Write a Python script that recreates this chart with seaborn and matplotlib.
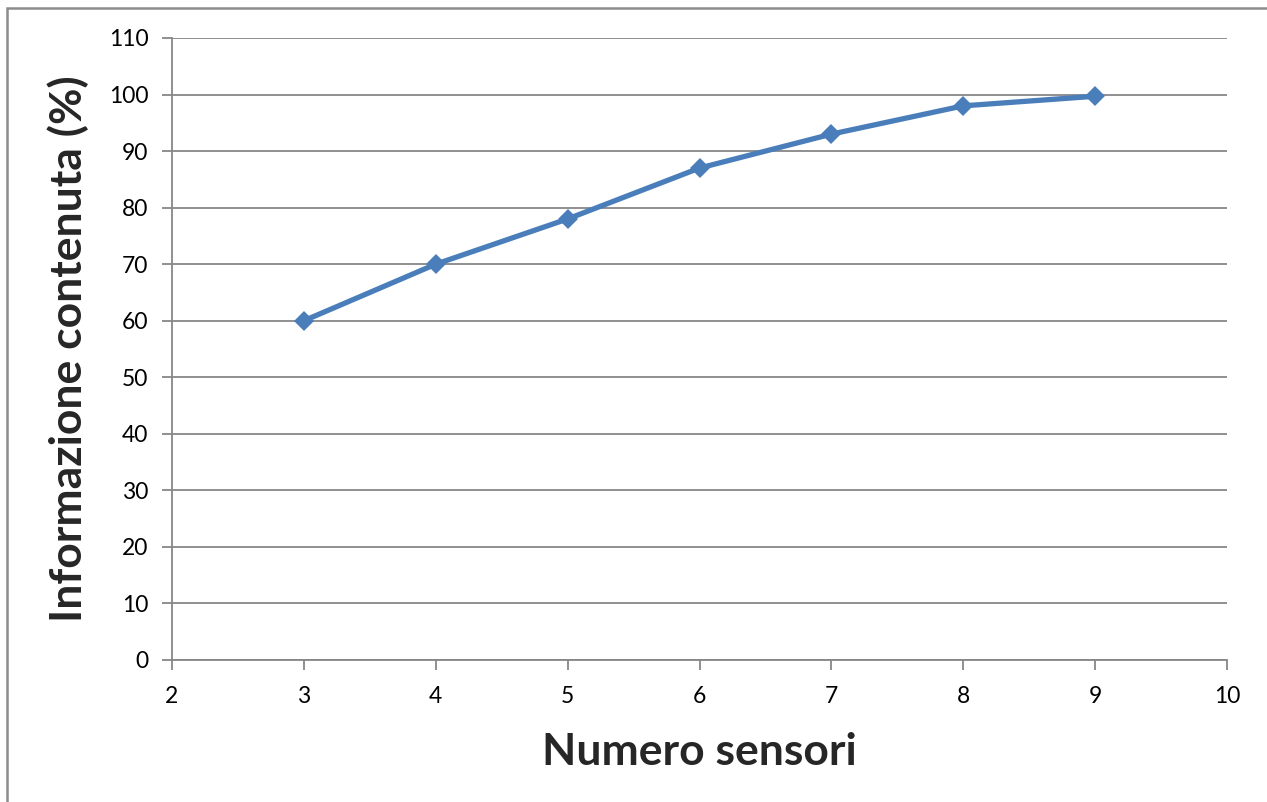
import matplotlib
matplotlib.use("Agg")
import matplotlib.pyplot as plt
import seaborn as sns
import pandas as pd
from matplotlib.patches import Rectangle

sensori = [3, 4, 5, 6, 7, 8, 9]
informazione = [60, 70, 78, 87, 93, 98, 99.7]
x_ticks = [2, 3, 4, 5, 6, 7, 8, 9, 10]
y_ticks = list(range(0, 111, 10))

sns.set_theme(style="white")
plt.rcParams['font.family'] = ['Lato', 'DejaVu Sans']

W, H = 1267, 802
fig = plt.figure(figsize=(W / 100, H / 100), dpi=100)
ax = fig.add_axes([172 / W, 1 - 660 / H, (1227 - 172) / W, (660 - 38) / H])

df = pd.DataFrame({"x": sensori, "y": informazione})
sns.lineplot(data=df, x="x", y="y", ax=ax, color="#4a7ebb", linewidth=3.8,
             marker="D", markersize=10, markeredgewidth=0, zorder=5)

ax.set_xlim(2, 10)
ax.set_ylim(0, 110)
ax.set_xticks(x_ticks)
ax.set_yticks(y_ticks)
ax.set_xticklabels([str(v) for v in x_ticks], fontsize=16.5)
ax.set_yticklabels([str(v) for v in y_ticks], fontsize=16.5)
gc = "#878787"
ax.grid(axis="y", color=gc, linewidth=1.3)
ax.grid(axis="x", visible=False)
for s in ["top", "right"]:
    ax.spines[s].set_visible(False)
for s in ["left", "bottom"]:
    ax.spines[s].set_color(gc)
    ax.spines[s].set_linewidth(1.3)
ax.tick_params(axis="both", which="major", length=7, width=1.3, color=gc,
               direction="out", left=True, bottom=True, labelcolor="black")
ax.tick_params(axis="y", pad=10)
ax.tick_params(axis="x", pad=12)

ax.set_xlabel("Numero sensori", fontsize=32, fontweight="bold", labelpad=18)
ax.set_ylabel("Informazione contenuta (%)", fontsize=32, fontweight="bold", labelpad=14)

fig.patches.append(Rectangle((7 / W, -0.1), 1.2, 1 - 8 / H + 0.1, transform=fig.transFigure,
                             fill=False, edgecolor="#8c8c8c", linewidth=1.8, zorder=0))

fig.savefig("out.png", dpi=100)
